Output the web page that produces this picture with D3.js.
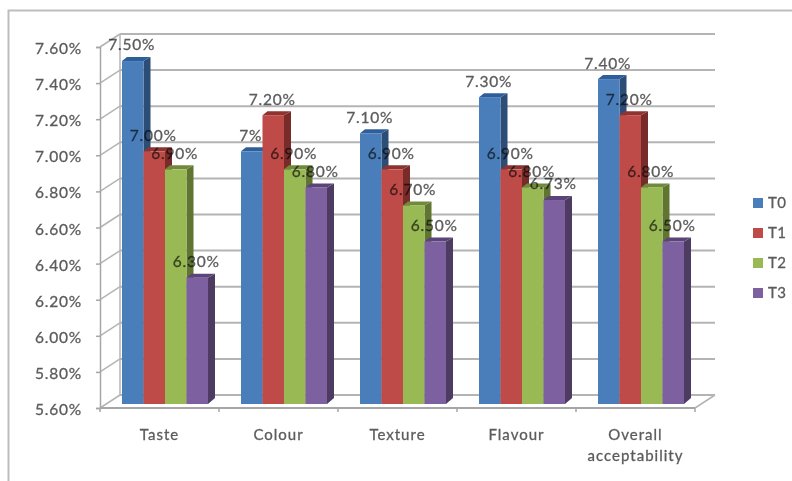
<!DOCTYPE html>
<html>
<head>
<meta charset="utf-8">
<script src="https://cdn.jsdelivr.net/npm/d3@7"></script>
<style>
  html, body { margin: 0; padding: 0; background: #fff; }
  svg { display: block; }
  text { font-family: Lato, "Open Sans", sans-serif; stroke: currentColor; stroke-width: 0.3px; }
</style>
</head>
<body>
<div id="chart"></div>
<script>
// Sensory scores per attribute, in percent
const categories = ["Taste", "Colour", "Texture", "Flavour", "Overall acceptability"];
const seriesNames = ["T0", "T1", "T2", "T3"];
const t0 = [7.5, 7.0, 7.1, 7.3, 7.4];
const t1 = [7.0, 7.2, 6.9, 6.9, 7.2];
const t2 = [6.9, 6.9, 6.7, 6.8, 6.8];
const t3 = [6.3, 6.8, 6.5, 6.73, 6.5];
const yTicks = [5.6, 5.8, 6.0, 6.2, 6.4, 6.6, 6.8, 7.0, 7.2, 7.4, 7.6];
const faceColors = ["#4a7ebb", "#be4b48", "#98b954", "#7d60a0"];
const sideColors = ["#2c4d75", "#772c2a", "#5f7530", "#4d3b62"];
const topColors = ["#2f5f99", "#8f3331", "#708a3c", "#5a4478"];

const width = 792, height = 481;
const values = [t0, t1, t2, t3];

// Oblique projection of the plot box
const left = 100, right = 695, front = 408, frontTop = 47;
const wallDx = 20, wallDy = 13;
const barBase = 404, barDepthX = 7, barDepthY = 4;
const pct2 = d3.format(".2f");
// Whole-number label used on one bar of the Colour group
const formatLabel = (v, s, c) => (s === 0 && c === 1) ? "7%" : pct2(v) + "%";

const svg = d3.select("#chart").append("svg").attr("width", width).attr("height", height)
  .style("color", "#5c5c5c");

// Outer frame, open at the right and bottom
svg.append("path")
  .attr("d", d3.line()([[8.5, height], [8.5, 10.5], [width, 10.5]]))
  .attr("fill", "none").attr("stroke", "#bdbdbd").attr("stroke-width", 2);

const y = d3.scaleLinear().domain([5.6, 7.6]).range([front, frontTop]);
const yBar = d3.scaleLinear().domain([5.6, 7.6]).range([barBase, barBase - (front - frontTop)]);
const x = d3.scaleBand().domain(categories).range([left, right]);
const xSeries = d3.scaleBand().domain(seriesNames).range([22, 108]);

// Back-wall gridlines and their diagonal links to the front axis
const grid = svg.append("g").attr("stroke", "#b4b4b4").attr("fill", "none");
grid.selectAll("line.wall").data(yTicks).join("line")
  .attr("class", "wall")
  .attr("x1", left + wallDx).attr("x2", right + wallDx)
  .attr("y1", d => y(d) - wallDy).attr("y2", d => y(d) - wallDy)
  .attr("stroke-width", 2);
grid.selectAll("line.link").data(yTicks).join("line")
  .attr("class", "link")
  .attr("x1", left).attr("x2", left + wallDx)
  .attr("y1", d => y(d)).attr("y2", d => y(d) - wallDy)
  .attr("stroke-width", 1.5);
grid.append("line")
  .attr("x1", left + wallDx).attr("x2", left + wallDx)
  .attr("y1", y(5.6) - wallDy).attr("y2", y(7.6) - wallDy).attr("stroke-width", 1.5);
grid.append("line")
  .attr("x1", right).attr("x2", right + wallDx)
  .attr("y1", front).attr("y2", front - wallDy).attr("stroke-width", 1.5);

// Front axes
const yAxis = d3.axisLeft(y).tickValues(yTicks).tickSize(4).tickPadding(14)
  .tickFormat(d => pct2(d) + "%");
const gy = svg.append("g").attr("transform", `translate(${left},0)`).call(yAxis);
gy.selectAll("path, line").attr("stroke", "#a6a6a6").attr("stroke-width", 1.5);
gy.selectAll("text").attr("font-size", 15.5).attr("fill", "#5c5c5c")
  .attr("letter-spacing", 0.8).attr("dy", "0.42em");

const xAxisLine = svg.append("g").attr("transform", `translate(0,${front})`);
xAxisLine.append("line").attr("x1", left).attr("x2", right)
  .attr("stroke", "#a6a6a6").attr("stroke-width", 2);
xAxisLine.selectAll("line.tick").data(categories.map((c) => x(c)).concat([right])).join("line")
  .attr("class", "tick").attr("x1", d => d).attr("x2", d => d).attr("y1", 0).attr("y2", 4)
  .attr("stroke", "#a6a6a6").attr("stroke-width", 1.5);

// Category labels, wrapped onto separate lines
const catLabels = svg.append("g").attr("text-anchor", "middle")
  .attr("font-size", 15).attr("fill", "#5c5c5c")
  .attr("letter-spacing", 1);
categories.forEach(c => {
  const cx = x(c) + x.bandwidth() / 2;
  const words = c.split(" ");
  words.forEach((w, i) => {
    catLabels.append("text").attr("x", cx).attr("y", 440 + i * 21).text(w);
  });
});

// Bars: side, top, then front face, left to right
const bars = svg.append("g");
categories.forEach((c, ci) => {
  seriesNames.forEach((s, si) => {
    const v = values[si][ci];
    const x0 = x(c) + xSeries(s);
    const x1 = x0 + xSeries.bandwidth();
    const top = yBar(v);
    bars.append("polygon").attr("fill", sideColors[si])
      .attr("points", [[x1, top], [x1 + barDepthX, top - barDepthY],
        [x1 + barDepthX, barBase - 6], [x1, barBase]].join(" "));
    bars.append("polygon").attr("fill", topColors[si])
      .attr("points", [[x0, top], [x0 + 5, top - barDepthY],
        [x1 + barDepthX, top - barDepthY], [x1, top]].join(" "));
    bars.append("rect").attr("fill", faceColors[si])
      .attr("x", x0).attr("y", top)
      .attr("width", xSeries.bandwidth()).attr("height", barBase - top);
  });
});

// Value labels sit above all bars
const valueLabels = svg.append("g").attr("text-anchor", "middle")
  .attr("font-size", 15.5).attr("fill", "#5c5c5c")
  .attr("letter-spacing", 0.8)
  .style("mix-blend-mode", "multiply");
categories.forEach((c, ci) => {
  seriesNames.forEach((s, si) => {
    const v = values[si][ci];
    valueLabels.append("text")
      .attr("x", x(c) + xSeries(s) + xSeries.bandwidth() / 2 - 1)
      .attr("y", yBar(v) - 16)
      .attr("dy", "0.35em")
      .text(formatLabel(v, si, ci));
  });
});

// Legend
const legendY = d3.scalePoint().domain(seriesNames).range([203, 293]);
const legend = svg.append("g").selectAll("g").data(seriesNames).join("g")
  .attr("transform", d => `translate(753,${legendY(d)})`);
legend.append("rect").attr("x", 0).attr("y", -5).attr("width", 10).attr("height", 10)
  .attr("fill", (d, i) => faceColors[i]);
legend.append("text").attr("x", 15).attr("dy", "0.35em")
  .attr("font-size", 15).attr("fill", "#5c5c5c")
  .attr("letter-spacing", 0.5).text(d => d);
</script>
</body>
</html>
